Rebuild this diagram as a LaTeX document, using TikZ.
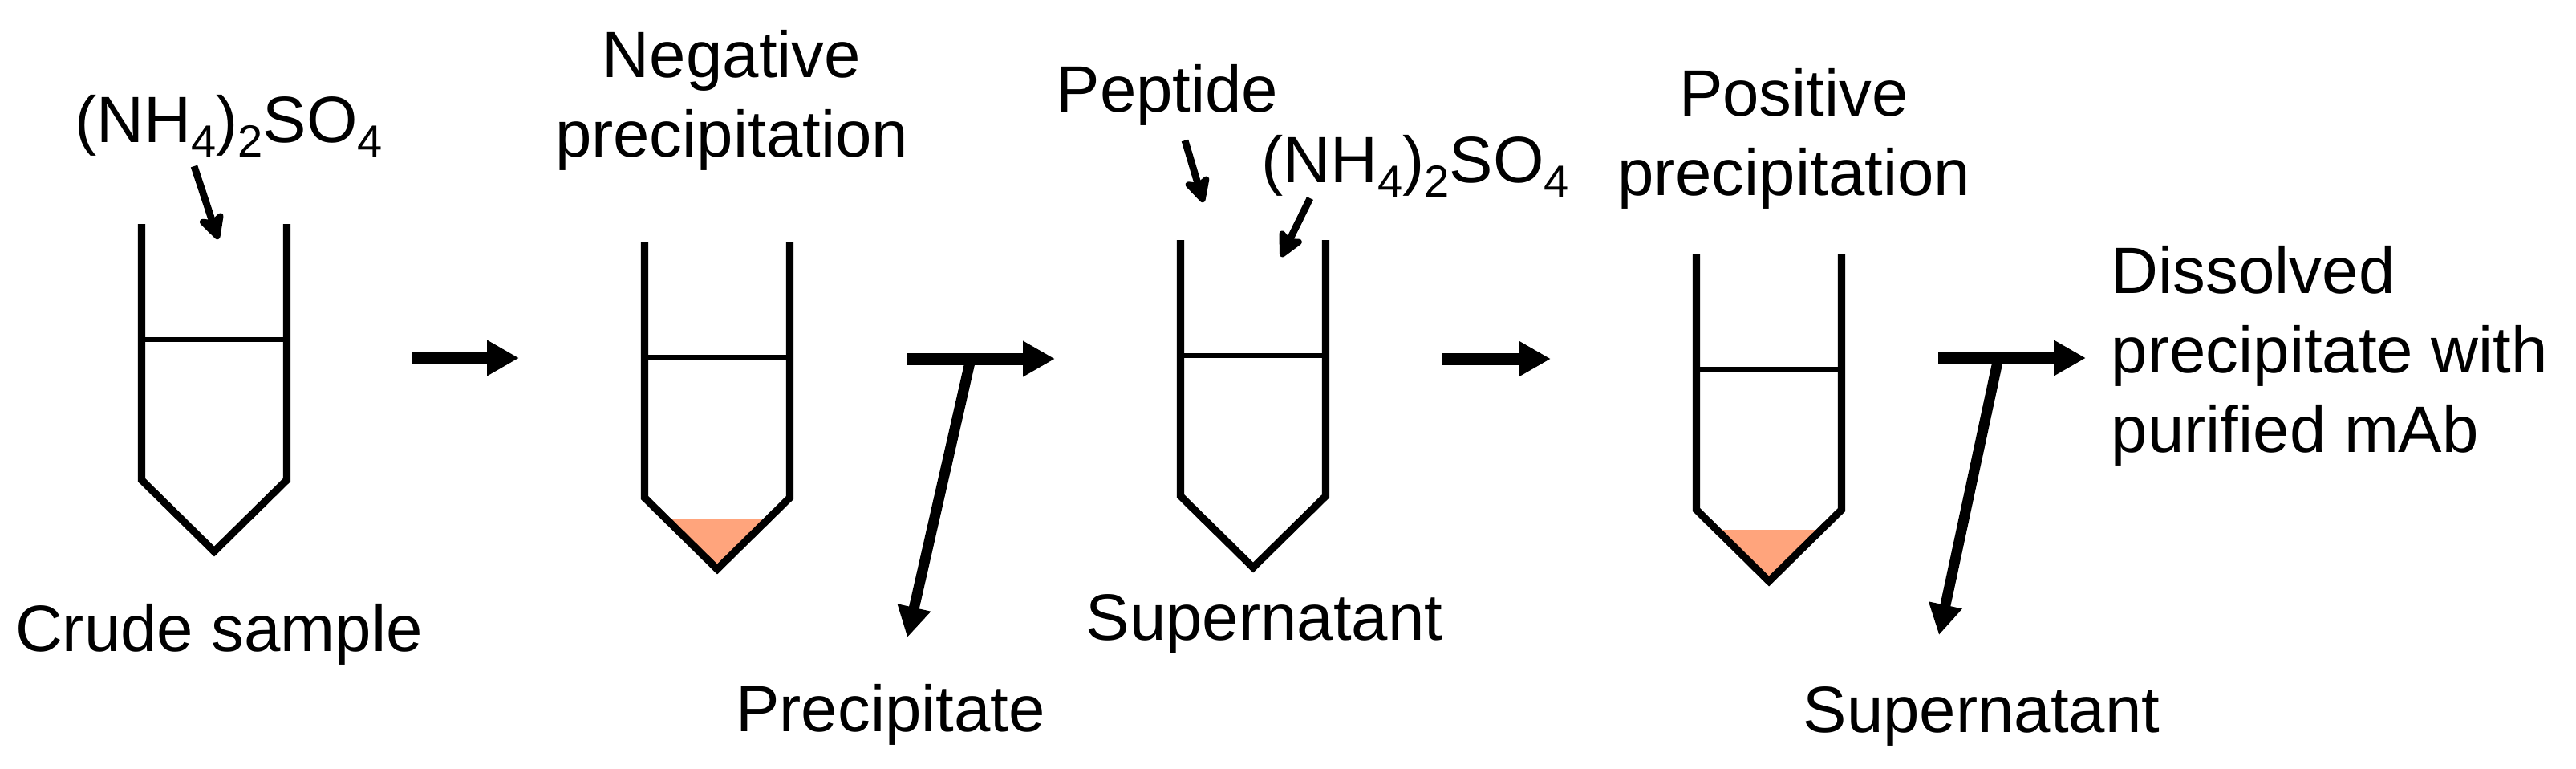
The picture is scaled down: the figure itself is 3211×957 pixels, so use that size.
\documentclass[tikz,border=0pt]{standalone}
\usepackage{fontspec}
\setmainfont{Liberation Sans}
\usetikzlibrary{arrows.meta}
\definecolor{pellet}{RGB}{255,164,124}
\newcommand{\chemsub}[1]{\raisebox{-0.23em}{\fontsize{14}{14}\selectfont #1}}
\newcommand{\ammsulf}{(NH\chemsub{4})\chemsub{2}SO\chemsub{4}}
\begin{document}
\begin{tikzpicture}[x=0.25pt,y=-0.25pt,
	lbl/.style={font=\fontsize{20.4}{24.75}\selectfont,inner sep=0pt,anchor=base,align=center},
	wall/.style={line width=2.3pt,line join=miter},
	level/.style={line width=1.5pt},
	bigarr/.style={line width=3.75pt,-{Triangle[length=10pt,width=10.5pt]}},
	downarr/.style={line width=3.25pt,-{Triangle[length=9.5pt,width=10pt]}},
	addarr/.style={line width=2.2pt,-{Stealth[length=9.5pt,width=9.5pt,inset=2pt,round]}}]
			\useasboundingbox (0,0) rectangle (3211,957);
			\fill[pellet] (894-64,647)--(894+64,647)--(894,709)--cycle;
			\fill[pellet] (2205-66,660)--(2205+66,660)--(2205,724)--cycle;
			\foreach \cx/\ty in {267/279,894/301,1562/299,2205/316}{
				\draw[wall] (\cx-90.5,\ty)--(\cx-90.5,\ty+319)--(\cx,\ty+408)--(\cx+90.5,\ty+319)--(\cx+90.5,\ty);
				\draw[level] (\cx-90.5,\ty+144)--(\cx+90.5,\ty+144);
			}
			% labels (multi-line ones sit on their last baseline)
			\node[lbl] (amm1) at (285,177) {\ammsulf};
			\node[lbl] (crude) at (273,811) {Crude sample};
			\node[lbl] (negp) at (912,195) {Negative\\precipitation};
			\node[lbl] (prec) at (1110,911) {Precipitate};
			\node[lbl] (pept) at (1455,139) {Peptide};
			\node[lbl] (amm2) at (1764,227) {\ammsulf};
			\node[lbl] (sup1) at (1576,797) {Supernatant};
			\node[lbl] (posp) at (2236,243) {Positive\\precipitation};
			\node[lbl] (sup2) at (2470,912) {Supernatant};
			\node[lbl,anchor=base west,align=left] (diss) at (2631,563) {Dissolved\\precipitate with\\purified mAb};
			% arrows
			\coordinate (s1a) at (242,207); \coordinate (s1b) at (272,298);
			\coordinate (s2a) at (1477,175); \coordinate (s2b) at (1500,252);
			\coordinate (s3a) at (1633,247); \coordinate (s3b) at (1597,320);
			\draw[addarr] (s1a)--(s1b);
			\draw[addarr] (s2a)--(s2b);
			\draw[addarr] (s3a)--(s3b);
			\coordinate (a1s) at (513,446); \coordinate (a1e) at (647,446);
			\coordinate (a2s) at (1131,447); \coordinate (a2e) at (1315,447);
			\coordinate (a2j) at (1210,447); \coordinate (a2d) at (1131,794);
			\coordinate (a3s) at (1798,447); \coordinate (a3e) at (1933,447);
			\coordinate (a4s) at (2416,446); \coordinate (a4e) at (2600,446);
			\coordinate (a4j) at (2491,446); \coordinate (a4d) at (2417,791);
			\draw[bigarr] (a1s)--(a1e);
			\draw[bigarr] (a2s)--(a2e);
			\draw[downarr] (a2j)--(a2d);
			\draw[bigarr] (a3s)--(a3e);
			\draw[bigarr] (a4s)--(a4e);
			\draw[downarr] (a4j)--(a4d);
\end{tikzpicture}
\end{document}
